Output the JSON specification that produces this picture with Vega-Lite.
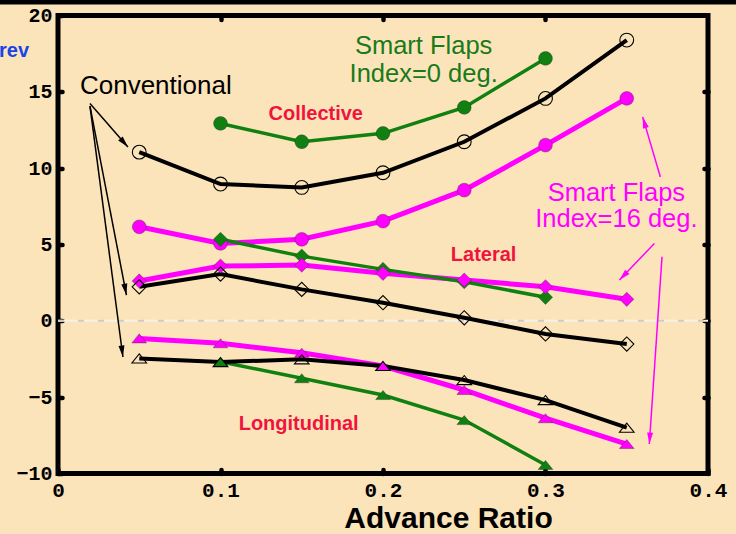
{
  "$schema": "https://vega.github.io/schema/vega-lite/v6.json",
  "width": 650,
  "height": 458,
  "autosize": "none",
  "padding": {"left": 58, "top": 15.5, "right": 28, "bottom": 60.5},
  "background": "#FCE4BA",
  "config": {"view": {"stroke": "black", "strokeWidth": 5}, "font": "Liberation Sans"},
  "datasets": {
    "series": [
      {"g": "Collective", "c": "Conventional", "mu": 0.05, "v": 11.05},
      {"g": "Collective", "c": "Conventional", "mu": 0.1, "v": 8.96},
      {"g": "Collective", "c": "Conventional", "mu": 0.15, "v": 8.74},
      {"g": "Collective", "c": "Conventional", "mu": 0.2, "v": 9.7},
      {"g": "Collective", "c": "Conventional", "mu": 0.25, "v": 11.73},
      {"g": "Collective", "c": "Conventional", "mu": 0.3, "v": 14.57},
      {"g": "Collective", "c": "Conventional", "mu": 0.35, "v": 18.39},
      {"g": "Collective", "c": "Index 0", "mu": 0.1, "v": 12.93},
      {"g": "Collective", "c": "Index 0", "mu": 0.15, "v": 11.73},
      {"g": "Collective", "c": "Index 0", "mu": 0.2, "v": 12.28},
      {"g": "Collective", "c": "Index 0", "mu": 0.25, "v": 13.98},
      {"g": "Collective", "c": "Index 0", "mu": 0.3, "v": 17.19},
      {"g": "Collective", "c": "Index 16", "mu": 0.05, "v": 6.16},
      {"g": "Collective", "c": "Index 16", "mu": 0.1, "v": 5.07},
      {"g": "Collective", "c": "Index 16", "mu": 0.15, "v": 5.34},
      {"g": "Collective", "c": "Index 16", "mu": 0.2, "v": 6.53},
      {"g": "Collective", "c": "Index 16", "mu": 0.25, "v": 8.56},
      {"g": "Collective", "c": "Index 16", "mu": 0.3, "v": 11.51},
      {"g": "Collective", "c": "Index 16", "mu": 0.35, "v": 14.57},
      {"g": "Lateral", "c": "Conventional", "mu": 0.05, "v": 2.23},
      {"g": "Lateral", "c": "Conventional", "mu": 0.1, "v": 3.06},
      {"g": "Lateral", "c": "Conventional", "mu": 0.15, "v": 2.06},
      {"g": "Lateral", "c": "Conventional", "mu": 0.2, "v": 1.19},
      {"g": "Lateral", "c": "Conventional", "mu": 0.25, "v": 0.2},
      {"g": "Lateral", "c": "Conventional", "mu": 0.3, "v": -0.86},
      {"g": "Lateral", "c": "Conventional", "mu": 0.35, "v": -1.52},
      {"g": "Lateral", "c": "Index 0", "mu": 0.1, "v": 5.34},
      {"g": "Lateral", "c": "Index 0", "mu": 0.15, "v": 4.24},
      {"g": "Lateral", "c": "Index 0", "mu": 0.2, "v": 3.37},
      {"g": "Lateral", "c": "Index 0", "mu": 0.25, "v": 2.56},
      {"g": "Lateral", "c": "Index 0", "mu": 0.3, "v": 1.54},
      {"g": "Lateral", "c": "Index 16", "mu": 0.05, "v": 2.61},
      {"g": "Lateral", "c": "Index 16", "mu": 0.1, "v": 3.59},
      {"g": "Lateral", "c": "Index 16", "mu": 0.15, "v": 3.65},
      {"g": "Lateral", "c": "Index 16", "mu": 0.2, "v": 3.11},
      {"g": "Lateral", "c": "Index 16", "mu": 0.25, "v": 2.67},
      {"g": "Lateral", "c": "Index 16", "mu": 0.3, "v": 2.23},
      {"g": "Lateral", "c": "Index 16", "mu": 0.35, "v": 1.41},
      {"g": "Longitudinal", "c": "Conventional", "mu": 0.05, "v": -2.46},
      {"g": "Longitudinal", "c": "Conventional", "mu": 0.1, "v": -2.7},
      {"g": "Longitudinal", "c": "Conventional", "mu": 0.15, "v": -2.52},
      {"g": "Longitudinal", "c": "Conventional", "mu": 0.2, "v": -2.96},
      {"g": "Longitudinal", "c": "Conventional", "mu": 0.25, "v": -3.88},
      {"g": "Longitudinal", "c": "Conventional", "mu": 0.3, "v": -5.19},
      {"g": "Longitudinal", "c": "Conventional", "mu": 0.35, "v": -7.0},
      {"g": "Longitudinal", "c": "Index 0", "mu": 0.1, "v": -2.68},
      {"g": "Longitudinal", "c": "Index 0", "mu": 0.15, "v": -3.76},
      {"g": "Longitudinal", "c": "Index 0", "mu": 0.2, "v": -4.86},
      {"g": "Longitudinal", "c": "Index 0", "mu": 0.25, "v": -6.5},
      {"g": "Longitudinal", "c": "Index 0", "mu": 0.3, "v": -9.44},
      {"g": "Longitudinal", "c": "Index 16", "mu": 0.05, "v": -1.15},
      {"g": "Longitudinal", "c": "Index 16", "mu": 0.1, "v": -1.47},
      {"g": "Longitudinal", "c": "Index 16", "mu": 0.15, "v": -2.09},
      {"g": "Longitudinal", "c": "Index 16", "mu": 0.2, "v": -2.96},
      {"g": "Longitudinal", "c": "Index 16", "mu": 0.25, "v": -4.53},
      {"g": "Longitudinal", "c": "Index 16", "mu": 0.3, "v": -6.38},
      {"g": "Longitudinal", "c": "Index 16", "mu": 0.35, "v": -8.07}
    ],
    "arrows": [
      {"k": "Conventional", "x": 0.01967, "y": 14.23, "x2": 0.04303, "y2": 11.38, "a": 138.9},
      {"k": "Conventional", "x": 0.01967, "y": 14.06, "x2": 0.04211, "y2": 1.69, "a": 169.1},
      {"k": "Conventional", "x": 0.01967, "y": 14.06, "x2": 0.03996, "y2": -2.37, "a": 172.5},
      {"k": "Index 16", "x": 0.3707, "y": 9.42, "x2": 0.3598, "y2": 13.36, "a": -16.4},
      {"k": "Index 16", "x": 0.367, "y": 5.07, "x2": 0.3455, "y2": 2.67, "a": -136.4},
      {"k": "Index 16", "x": 0.3717, "y": 4.2, "x2": 0.3639, "y2": -8.07, "a": -176.1}
    ]
  },
  "resolve": {"axis": {"x": "independent", "y": "independent"}},
  "layer": [
    {
      "data": {"values": [{}]},
      "mark": {"type": "rule", "color": "#F6F1E8", "strokeWidth": 2},
      "encoding": {
        "x": {"datum": 0, "type": "quantitative", "scale": {"domain": [0, 0.4], "nice": false, "zero": false},
          "axis": {"orient": "bottom", "values": [0, 0.1, 0.2, 0.3, 0.4], "format": ".1~f", "labelFlush": false, "grid": false, "domain": false,
            "tickSize": -4, "tickWidth": 4.5, "tickCap": "round", "tickColor": "black",
            "labelFont": "Liberation Mono", "labelFontWeight": "bold", "labelFontSize": 21, "labelColor": "black", "labelPadding": 10,
            "title": "Advance Ratio", "titleFont": "Liberation Sans", "titleFontWeight": "bold", "titleFontSize": 30, "titleColor": "black",
            "titleX": 390, "titleY": 54, "titleAlign": "center", "titleBaseline": "alphabetic"}},
        "x2": {"datum": 0.4},
        "y": {"datum": 0, "type": "quantitative", "scale": {"domain": [-10, 20], "nice": false, "zero": false},
          "axis": {"orient": "left", "values": [-10, -5, 0, 5, 10, 15, 20], "title": null, "grid": false, "domain": false,
            "tickSize": -4, "tickWidth": 4.5, "tickCap": "round", "tickColor": "black",
            "labelFont": "Liberation Mono", "labelFontWeight": "bold", "labelFontSize": 20, "labelColor": "black", "labelPadding": 10}}
      }
    },
    {
      "data": {"values": [{}]},
      "mark": {"type": "rule", "color": "#CFCAC2", "strokeWidth": 2, "strokeDash": [6, 14]},
      "encoding": {
        "x": {"datum": 0, "type": "quantitative", "scale": {"domain": [0, 0.4], "nice": false, "zero": false},
          "axis": {"orient": "top", "values": [0.1, 0.2, 0.3], "labels": false, "title": null, "grid": false, "domain": false,
            "tickSize": -4, "tickWidth": 4.5, "tickCap": "round", "tickColor": "black"}},
        "x2": {"datum": 0.4},
        "y": {"datum": 0, "type": "quantitative", "scale": {"domain": [-10, 20], "nice": false, "zero": false},
          "axis": {"orient": "right", "values": [-5, 0, 5, 10, 15], "labels": false, "title": null, "grid": false, "domain": false,
            "tickSize": -4, "tickWidth": 4.5, "tickCap": "round", "tickColor": "black"}}
      }
    },
    {
      "data": {"values": [{}]},
      "mark": {"type": "rule", "color": "black", "strokeWidth": 4.5},
      "encoding": {
        "x": {"datum": -0.04, "type": "quantitative", "scale": {"domain": [0, 0.4], "nice": false, "zero": false}, "axis": null},
        "x2": {"datum": 0.42},
        "y": {"datum": 20.87, "type": "quantitative", "scale": {"domain": [-10, 20], "nice": false, "zero": false}, "axis": null}
      }
    },
    {
      "data": {"name": "series"},
      "transform": [{"filter": "datum.c == 'Index 16'"}],
      "mark": {"type": "line", "color": "#FF00FF", "strokeWidth": 5},
      "encoding": {
        "x": {"field": "mu", "type": "quantitative", "scale": {"domain": [0, 0.4], "nice": false, "zero": false}, "axis": null},
        "y": {"field": "v", "type": "quantitative", "scale": {"domain": [-10, 20], "nice": false, "zero": false}, "axis": null},
        "detail": {"field": "g"}
      }
    },
    {
      "data": {"name": "series"},
      "transform": [{"filter": "datum.c == 'Index 0'"}],
      "mark": {"type": "line", "color": "#108010", "strokeWidth": 3.5},
      "encoding": {
        "x": {"field": "mu", "type": "quantitative", "scale": {"domain": [0, 0.4], "nice": false, "zero": false}, "axis": null},
        "y": {"field": "v", "type": "quantitative", "scale": {"domain": [-10, 20], "nice": false, "zero": false}, "axis": null},
        "detail": {"field": "g"}
      }
    },
    {
      "data": {"name": "series"},
      "transform": [{"filter": "datum.c == 'Conventional'"}],
      "mark": {"type": "line", "color": "black", "strokeWidth": 4},
      "encoding": {
        "x": {"field": "mu", "type": "quantitative", "scale": {"domain": [0, 0.4], "nice": false, "zero": false}, "axis": null},
        "y": {"field": "v", "type": "quantitative", "scale": {"domain": [-10, 20], "nice": false, "zero": false}, "axis": null},
        "detail": {"field": "g"}
      }
    },
    {
      "data": {"name": "series"},
      "transform": [{"filter": "datum.c != 'Conventional'"}],
      "mark": {"type": "point", "filled": true, "opacity": 1, "stroke": "#303030", "strokeWidth": 0.4},
      "encoding": {
        "x": {"field": "mu", "type": "quantitative", "scale": {"domain": [0, 0.4], "nice": false, "zero": false}, "axis": null},
        "y": {"field": "v", "type": "quantitative", "scale": {"domain": [-10, 20], "nice": false, "zero": false}, "axis": null},
        "color": {"field": "c", "type": "nominal", "scale": {"domain": ["Conventional", "Index 0", "Index 16"], "range": ["black", "#108010", "#FF00FF"]}, "legend": null},
        "shape": {"field": "g", "type": "nominal", "scale": {"domain": ["Collective", "Lateral", "Longitudinal"], "range": ["circle", "diamond", "M0,-0.62L1,0.62L-1,0.62Z"]}, "legend": null},
        "size": {"field": "g", "type": "ordinal", "scale": {"domain": ["Collective", "Lateral", "Longitudinal"], "range": [190, 215, 400]}, "legend": null}
      }
    },
    {
      "data": {"name": "series"},
      "transform": [{"filter": "datum.c == 'Conventional'"}],
      "mark": {"type": "point", "filled": false, "color": "black", "strokeWidth": 1.1, "opacity": 1},
      "encoding": {
        "x": {"field": "mu", "type": "quantitative", "scale": {"domain": [0, 0.4], "nice": false, "zero": false}, "axis": null},
        "y": {"field": "v", "type": "quantitative", "scale": {"domain": [-10, 20], "nice": false, "zero": false}, "axis": null},
        "shape": {"field": "g", "type": "nominal", "scale": {"domain": ["Collective", "Lateral", "Longitudinal"], "range": ["circle", "diamond", "M0,-0.62L1,0.62L-1,0.62Z"]}, "legend": null},
        "size": {"field": "g", "type": "ordinal", "scale": {"domain": ["Collective", "Lateral", "Longitudinal"], "range": [200, 210, 361]}, "legend": null}
      }
    },
    {
      "data": {"name": "arrows"},
      "mark": {"type": "rule", "strokeWidth": 1.5},
      "encoding": {
        "x": {"field": "x", "type": "quantitative", "scale": {"domain": [0, 0.4], "nice": false, "zero": false}, "axis": null},
        "y": {"field": "y", "type": "quantitative", "scale": {"domain": [-10, 20], "nice": false, "zero": false}, "axis": null},
        "x2": {"field": "x2"},
        "y2": {"field": "y2"},
        "color": {"field": "k", "type": "nominal", "scale": {"domain": ["Conventional", "Index 16"], "range": ["#1C3278", "#FF00FF"]}, "legend": null}
      }
    },
    {
      "data": {"name": "arrows"},
      "mark": {"type": "point", "filled": true, "opacity": 1, "shape": "M0,0L0.5,1.9L-0.5,1.9Z", "size": 144},
      "encoding": {
        "x": {"field": "x2", "type": "quantitative", "scale": {"domain": [0, 0.4], "nice": false, "zero": false}, "axis": null},
        "y": {"field": "y2", "type": "quantitative", "scale": {"domain": [-10, 20], "nice": false, "zero": false}, "axis": null},
        "angle": {"field": "a", "type": "quantitative", "scale": null},
        "color": {"field": "k", "type": "nominal", "scale": {"domain": ["Conventional", "Index 16"], "range": ["#1C3278", "#FF00FF"]}, "legend": null}
      }
    },
    {
      "data": {"values": [
        {"t": "Collective", "x": 0.1586, "y": 13.15},
        {"t": "Lateral", "x": 0.2619, "y": 3.92},
        {"t": "Longitudinal", "x": 0.1481, "y": -7.15}
      ]},
      "mark": {"type": "text", "font": "Liberation Sans", "fontWeight": "bold", "fontSize": 20, "color": "#F0143C", "align": "center", "baseline": "alphabetic"},
      "encoding": {
        "x": {"field": "x", "type": "quantitative", "scale": {"domain": [0, 0.4], "nice": false, "zero": false}, "axis": null},
        "y": {"field": "y", "type": "quantitative", "scale": {"domain": [-10, 20], "nice": false, "zero": false}, "axis": null},
        "text": {"field": "t"}
      }
    },
    {
      "data": {"values": [
        {"t": "Conventional", "x": 0.0602, "y": 14.85}
      ]},
      "mark": {"type": "text", "font": "Liberation Sans", "fontSize": 26, "color": "black", "align": "center", "baseline": "alphabetic"},
      "encoding": {
        "x": {"field": "x", "type": "quantitative", "scale": {"domain": [0, 0.4], "nice": false, "zero": false}, "axis": null},
        "y": {"field": "y", "type": "quantitative", "scale": {"domain": [-10, 20], "nice": false, "zero": false}, "axis": null},
        "text": {"field": "t"}
      }
    },
    {
      "data": {"values": [
        {"t": "Smart Flaps", "x": 0.225, "y": 17.51},
        {"t": "Index=0 deg.", "x": 0.225, "y": 15.65}
      ]},
      "mark": {"type": "text", "font": "Liberation Sans", "fontSize": 25.5, "color": "#1A7A1A", "align": "center", "baseline": "alphabetic"},
      "encoding": {
        "x": {"field": "x", "type": "quantitative", "scale": {"domain": [0, 0.4], "nice": false, "zero": false}, "axis": null},
        "y": {"field": "y", "type": "quantitative", "scale": {"domain": [-10, 20], "nice": false, "zero": false}, "axis": null},
        "text": {"field": "t"}
      }
    },
    {
      "data": {"values": [
        {"t": "Smart Flaps", "x": 0.3436, "y": 7.86},
        {"t": "Index=16 deg.", "x": 0.3436, "y": 6.16}
      ]},
      "mark": {"type": "text", "font": "Liberation Sans", "fontSize": 25.5, "color": "#FF00FF", "align": "center", "baseline": "alphabetic"},
      "encoding": {
        "x": {"field": "x", "type": "quantitative", "scale": {"domain": [0, 0.4], "nice": false, "zero": false}, "axis": null},
        "y": {"field": "y", "type": "quantitative", "scale": {"domain": [-10, 20], "nice": false, "zero": false}, "axis": null},
        "text": {"field": "t"}
      }
    },
    {
      "data": {"values": [
        {"t": "rev", "x": -0.0178, "y": 17.27}
      ]},
      "mark": {"type": "text", "font": "Liberation Sans", "fontWeight": "bold", "fontSize": 20, "color": "#1745E6", "align": "right", "baseline": "alphabetic"},
      "encoding": {
        "x": {"field": "x", "type": "quantitative", "scale": {"domain": [0, 0.4], "nice": false, "zero": false}, "axis": null},
        "y": {"field": "y", "type": "quantitative", "scale": {"domain": [-10, 20], "nice": false, "zero": false}, "axis": null},
        "text": {"field": "t"}
      }
    }
  ]
}
